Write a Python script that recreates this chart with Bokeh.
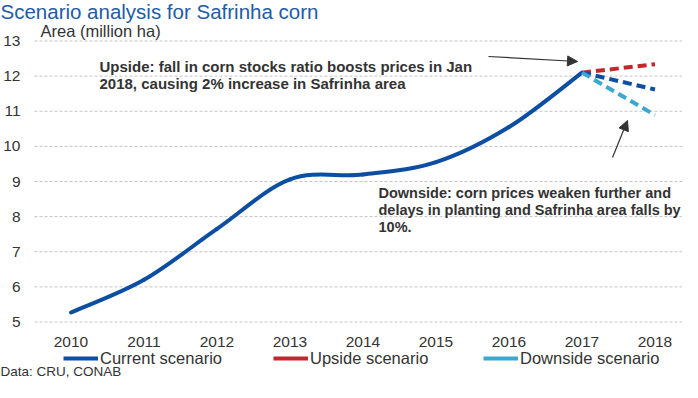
import numpy as np
from bokeh.plotting import figure
from bokeh.models import (Label, LabelSet, Arrow, NormalHead, Legend, LegendItem,
                          ColumnDataSource, Range1d)
from bokeh.core.properties import value
from bokeh.embed import file_html
from bokeh.resources import INLINE

# ---------------- data ----------------
years = [2010, 2011, 2012, 2013, 2014, 2015, 2016, 2017, 2018]
tick_labels = ["2010", "2011", "2012", "2013", "2014", "2015", "2016", "2017", "2018"]
current_years = [2010, 2011, 2012, 2013, 2014, 2015, 2016, 2017]
current_area = [5.27, 6.2, 7.65, 9.06, 9.2, 9.55, 10.55, 12.1]
proj_years = [2017, 2018]
upside_area = [12.1, 12.34]
current_proj_area = [12.1, 11.62]
downside_area = [12.1, 10.89]
y_ticks = [5, 6, 7, 8, 9, 10, 11, 12, 13]
y_tick_labels = ["5", "6", "7", "8", "9", "10", "11", "12", "13"]

title_text = "Scenario analysis for Safrinha corn"
y_title = "Area (million ha)"
upside_lines = ["Upside: fall in corn stocks ratio boosts prices in Jan",
                "2018, causing 2% increase in Safrinha area"]
downside_lines = ["Downside: corn prices weaken further and",
                  "delays in planting and Safrinha area falls by",
                  "10%."]
source_text = "Data: CRU, CONAB"
leg_names = ["Current scenario", "Upside scenario", "Downside scenario"]

# ---------------- style / layout ----------------
FONT = "Liberation Sans"
TXT = "#333333"
DARK = "#0B4EA2"
RED = "#C1272D"
LIGHT = "#3BA8D2"
TITLE_C = "#1E5BA8"

W, H = 682, 382                 # canvas size
X0, X1 = 2009.5, 2018.5         # plotting area data extent
Y0, Y1 = 5, 13
PX_X0, PX_PER_X = 34.0, 73.0    # canvas px of X0, px per year
PY_Y1, PX_PER_Y = 40.5, 35.125  # canvas px of Y1 (top), px per unit


def px2x(px):
    return X0 + (px - PX_X0) / PX_PER_X


def py2y(py):
    return Y1 - (py - PY_Y1) / PX_PER_Y


p = figure(width=W, height=H, output_backend="svg", toolbar_location=None,
           x_range=Range1d(px2x(0), px2x(W)), y_range=Range1d(py2y(H), py2y(0)),
           min_border_left=0, min_border_right=0, min_border_top=0, min_border_bottom=0)
p.outline_line_color = None
p.background_fill_color = "white"
p.border_fill_color = "white"
p.xaxis.visible = False
p.yaxis.visible = False
p.grid.visible = False

# gridlines
p.segment(x0=[X0] * len(y_ticks), x1=[X1] * len(y_ticks), y0=y_ticks, y1=y_ticks,
          line_color="#C4C4C4", line_width=1, line_dash="3 2")

# tick labels
p.add_layout(LabelSet(x="x", y="y", text="t",
                      source=ColumnDataSource(dict(x=[X0] * len(y_ticks), y=y_ticks, t=y_tick_labels)),
                      x_offset=-14, text_align="right", text_baseline="middle",
                      text_font=value(FONT), text_font_size="15.5px", text_color=TXT))
p.add_layout(LabelSet(x="x", y="y", text="t",
                      source=ColumnDataSource(dict(x=years, y=[Y0] * len(years), t=tick_labels)),
                      y_offset=-20, text_align="center", text_baseline="middle",
                      text_font=value(FONT), text_font_size="15.5px", text_color=TXT))

# ---------------- smooth current line (bezier from data) ----------------
n = len(current_years)
seg = dict(x0=[], y0=[], x1=[], y1=[], cx0=[], cy0=[], cx1=[], cy1=[])
for i in range(n - 1):
    xa, ya = current_years[i], current_area[i]
    xb, yb = current_years[i + 1], current_area[i + 1]
    xp, yp = (current_years[i - 1], current_area[i - 1]) if i > 0 else (xa, ya)
    xn, yn = (current_years[i + 2], current_area[i + 2]) if i + 2 < n else (xb, yb)
    seg["x0"].append(xa); seg["y0"].append(ya)
    seg["x1"].append(xb); seg["y1"].append(yb)
    seg["cx0"].append(xa + (xb - xp) / 6); seg["cy0"].append(ya + (yb - yp) / 6)
    seg["cx1"].append(xb - (xn - xa) / 6); seg["cy1"].append(yb - (yn - ya) / 6)

p.bezier(x0="x0", y0="y0", x1="x1", y1="y1", cx0="cx0", cy0="cy0", cx1="cx1", cy1="cy1",
         source=ColumnDataSource(seg), line_color=DARK, line_width=4, line_cap="round")

p.line(proj_years, upside_area, line_color=RED, line_width=4, line_dash="9 5")
p.line(proj_years, current_proj_area, line_color=DARK, line_width=4, line_dash="9 5")
p.line(proj_years, downside_area, line_color=LIGHT, line_width=4, line_dash="9 5")

# ---------------- arrows ----------------
for (sx, sy, ex, ey) in [(488, 56, 577, 61), (612, 157, 627, 120)]:
    p.add_layout(Arrow(end=NormalHead(size=10, fill_color=TXT, line_color=TXT, line_width=1),
                       x_start=px2x(sx), y_start=py2y(sy), x_end=px2x(ex), y_end=py2y(ey),
                       line_color=TXT, line_width=1.2))


# ---------------- texts (canvas px positions, anchor) ----------------
def add_text(txt, cx, base_y, size, color=TXT, style="normal"):
    p.add_layout(Label(x=px2x(cx), y=py2y(base_y),
                       text=txt, text_font=FONT, text_font_size=size, text_color=color,
                       text_font_style=style, text_baseline="alphabetic", text_align="left"))


add_text(title_text, 0, 11, "20.5px", TITLE_C)
add_text(y_title, 40, 30, "16.5px")
for k, t in enumerate(upside_lines):
    add_text(t, 99, 66 + 16.5 * k, "15px", style="bold")
for k, t in enumerate(downside_lines):
    add_text(t, 378, 192 + 17 * k, "14.5px", style="bold")
add_text(source_text, 0, 371, "13.5px")

# ---------------- legends (solid swatches via hidden-point renderers) ----------------
nan = np.array([np.nan])
leg_renderers = [
    p.line(x=nan, y=nan, line_color=DARK, line_width=4),
    p.line(x=nan, y=nan, line_color=RED, line_width=4),
    p.line(x=nan, y=nan, line_color=LIGHT, line_width=4),
]
leg_x = [63, 273, 483]
for r, name, lx in zip(leg_renderers, leg_names, leg_x):
    leg = Legend(items=[LegendItem(label=name, renderers=[r])],
                 location=(lx, H - 368),
                 orientation="horizontal", padding=0, margin=0, spacing=0,
                 glyph_width=35, glyph_height=20, label_height=20, label_standoff=2,
                 label_text_font=FONT, label_text_font_size="16.5px",
                 label_text_color=TXT, border_line_color=None,
                 background_fill_alpha=0)
    p.add_layout(leg, "center")

open("out.html", "w").write(file_html(p, INLINE))
